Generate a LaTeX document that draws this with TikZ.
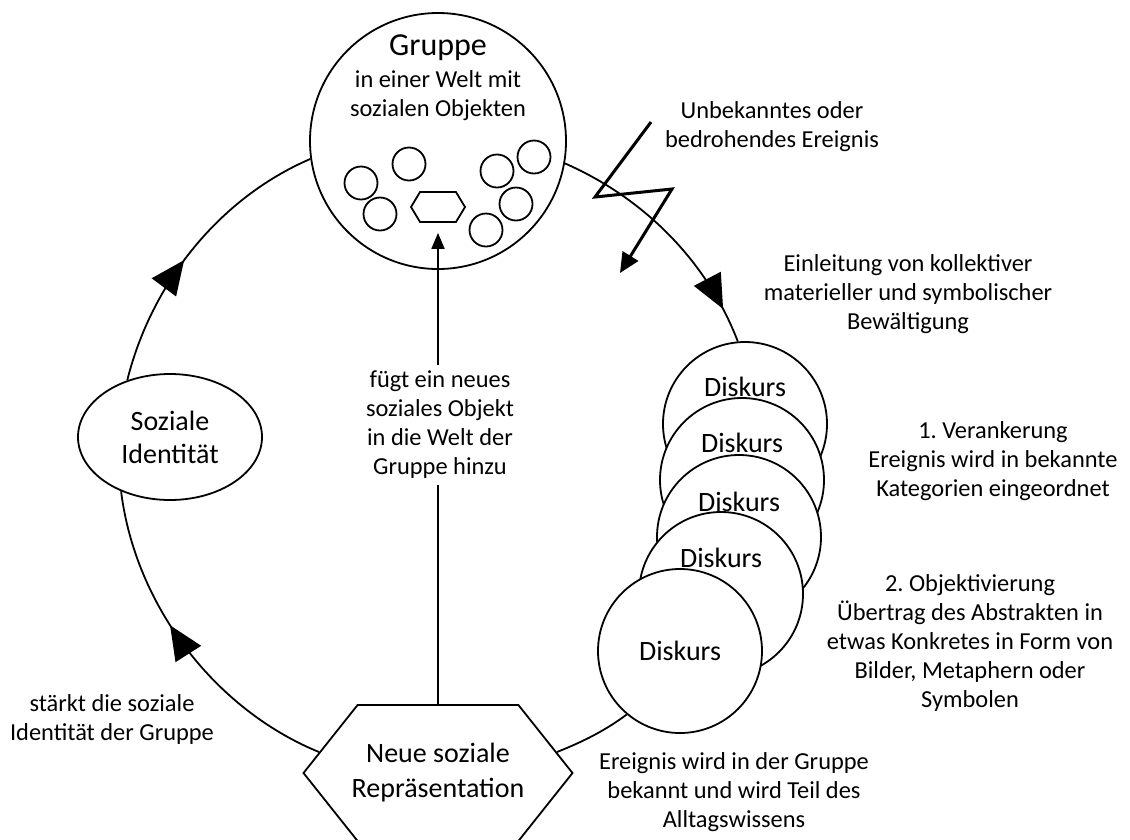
\documentclass[tikz,border=0pt]{standalone}
\usepackage{fontspec}
\setmainfont{Carlito}
\usetikzlibrary{arrows.meta,shapes.geometric,shapes.symbols,decorations.markings}
\frenchspacing
\begin{document}
\begin{tikzpicture}[x=1pt,y=1pt,
  ln/.style={line width=1.8pt},
  txt/.style={align=center,inner sep=0pt,font=\fontsize{24.4}{29}\selectfont},
  bigtxt/.style={align=center,inner sep=0pt,font=\fontsize{28}{35}\selectfont},
  obj/.style={circle,draw,ln,minimum size=33pt,inner sep=0pt},
  disk/.style={circle,draw,ln,fill=white,minimum size=164pt,inner sep=0pt},
  ringline/.style={ln,looseness=0.89},
  ringarrow/.style={decoration={markings,mark=at position #1 with {\arrow{Triangle[length=34pt,width=30pt]}}},postaction={decorate}},
  bolt/.style={line width=3pt,line join=miter,-{Triangle[length=20pt,width=18pt]}},
  vline/.style={ln,-{Triangle[length=16pt,width=13pt]}}
]
\useasboundingbox (0,0) rectangle (1130,-839);
\fill[white] (0,0) rectangle (1130,-839);

% Gruppe
\node[circle,draw,ln,fill=white,minimum size=256pt,inner sep=0pt] (G) at (438,-141) {};
\node[inner sep=0pt,font=\fontsize{32}{38}\selectfont] (gt) at (438,-47.5) {Gruppe};
\node[txt] (gs) at (438,-95.5) {in einer Welt mit\\sozialen Objekten};
\node[obj] (o1) at (409,-164) {};
\node[obj] (o2) at (361,-183) {};
\node[obj] (o3) at (380,-214) {};
\node[obj] (o4) at (497,-171) {};
\node[obj] (o5) at (534,-157) {};
\node[obj] (o6) at (516,-204) {};
\node[obj] (o7) at (486,-230) {};
\node[signal,signal to=west and east,signal pointer angle=118,draw,ln,minimum width=54pt,minimum height=30pt,inner sep=0pt] (SH) at (438,-207) {};

% Soziale Identitaet
\node[ellipse,draw,ln,fill=white,minimum width=184pt,minimum height=126pt,inner sep=0pt,align=center,font=\fontsize{28}{33}\selectfont] (SI) at (170,-437) {Soziale\\Identität};

% Neue soziale Repraesentation
\node[signal,signal to=west and east,signal pointer angle=103,draw,ln,fill=white,minimum width=269pt,minimum height=136pt,inner sep=0pt] (NSR) at (438,-773) {};
\node[bigtxt] (t6) at (NSR.center) {Neue soziale\\Repräsentation};

% Diskurs stack
\node[disk] (D1) at (745,-424) {};
\node[bigtxt] (t1) at ([yshift=37pt]D1.center) {Diskurs};
\node[disk] (D2) at (742,-480) {};
\node[bigtxt] (t2) at ([yshift=37pt]D2.center) {Diskurs};
\node[disk] (D3) at (739,-537) {};
\node[bigtxt] (t3) at ([yshift=35pt]D3.center) {Diskurs};
\node[disk] (D4) at (721,-594) {};
\node[bigtxt] (t4) at ([yshift=36pt]D4.center) {Diskurs};
\node[disk] (D5) at (680,-651) {};
\node[bigtxt] (t5) at (D5.center) {Diskurs};

% ring
\draw[ringline,ringarrow=0.45] (SI.127) to[out=76,in=203.3] (G.188.6);
\draw[ringline,ringarrow=0.86] (G.350.3) to[out=-23.7,in=111] (D1.95);
\draw[ringline] (D5.230) to[out=216.7,in=21.8] (NSR.10);
\draw[ringline,ringarrow=0.58] (NSR.170) to[out=157.7,in=277.1] (SI.228);

% vertical arrow
\coordinate (vt) at ([yshift=-10pt]SH.south);
\draw[vline] (NSR.north) -- (vt);
\node[txt,fill=white,inner sep=6pt] (F) at (440,-425) {fügt ein neues\\soziales Objekt\\in die Welt der\\Gruppe hinzu};

% lightning
\coordinate (L1) at (651,-122);
\coordinate (L2) at (595,-197);
\coordinate (L3) at (672,-189);
\coordinate (L4) at (620,-273);
\draw[bolt] (L1) -- (L2) -- (L3) -- (L4);

% labels
\node[txt] (U) at (772,-126.5) {Unbekanntes oder\\bedrohendes Ereignis};
\node[txt] (E) at (908,-294) {Einleitung von kollektiver\\materieller und symbolischer\\Bewältigung};
\node[txt] (V) at (993,-461) {1. Verankerung\\Ereignis wird in bekannte\\Kategorien eingeordnet};
\node[txt] (O) at (970,-642.5) {2. Objektivierung\\Übertrag des Abstrakten in\\etwas Konkretes in Form von\\Bilder, Metaphern oder\\Symbolen};
\node[txt] (S) at (112,-719) {stärkt die soziale\\Identität der Gruppe};
\node[txt] (A) at (734,-792) {Ereignis wird in der Gruppe\\bekannt und wird Teil des\\Alltagswissens};
\end{tikzpicture}
\end{document}
